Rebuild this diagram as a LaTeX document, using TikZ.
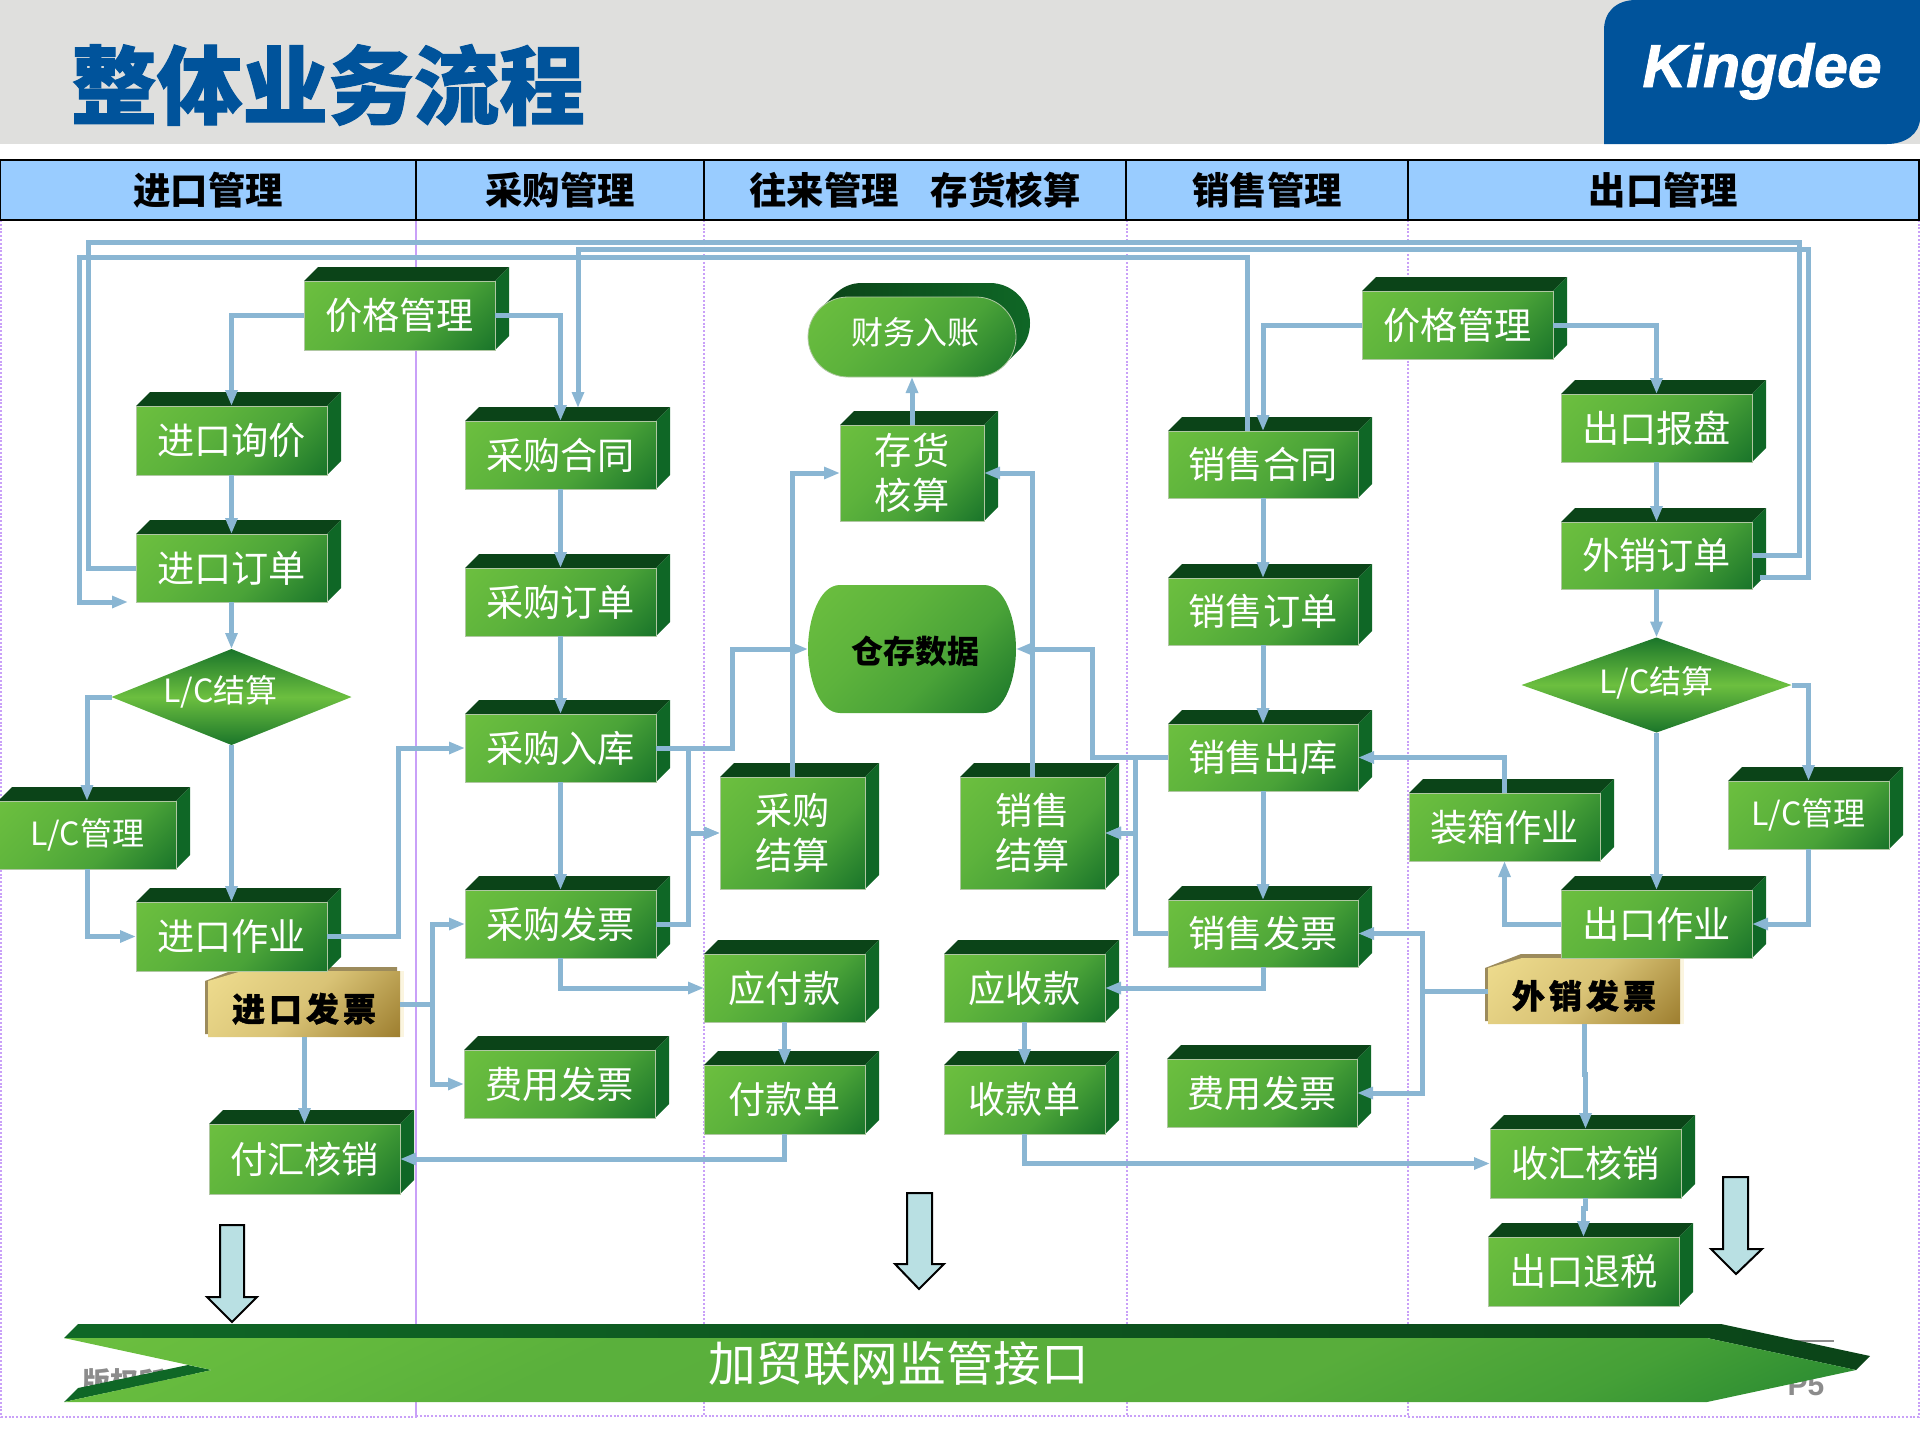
\documentclass[tikz,border=0pt]{standalone}
\usepackage{fontspec}
\usetikzlibrary{arrows.meta,shapes.geometric}
\newfontfamily\cjk{Noto Sans CJK SC}
\newfontfamily\cjkheavy[BoldFeatures={FakeBold=1.2}]{Noto Sans CJK SC}
\newfontfamily\lat{Liberation Sans}
\newfontfamily\latheavy[BoldItalicFeatures={FakeBold=1.5}]{Liberation Sans}
\definecolor{gA}{HTML}{6CBF3F}
\definecolor{gB}{HTML}{5DB33C}
\definecolor{gC}{HTML}{4AA338}
\definecolor{gD}{HTML}{1A752A}
\definecolor{gE}{HTML}{2D8D32}
\definecolor{gH}{HTML}{45A037}
\definecolor{gF}{HTML}{58AD3B}
\definecolor{gI}{HTML}{5AB03C}
\definecolor{gG}{HTML}{62B83D}
\definecolor{topc}{HTML}{0B4418}
\definecolor{sidec}{HTML}{0F6726}
\definecolor{linec}{HTML}{8AB6D3}
\definecolor{purp}{HTML}{C9A0F8}
\definecolor{blue}{HTML}{00539B}
\definecolor{band}{HTML}{DFDFDD}
\definecolor{head}{HTML}{99CCFF}
\definecolor{goldA}{HTML}{EEDC8E}
\definecolor{goldB}{HTML}{D9C376}
\definecolor{goldC}{HTML}{9E7F30}
\definecolor{tan}{HTML}{9C8B5C}
\definecolor{cream}{HTML}{FBF5E0}
\definecolor{sky}{HTML}{B9E0E3}
\definecolor{greytext}{HTML}{8C8C8C}
\pgfdeclareverticalshading{gfaceshade}{100bp}{color(0bp)=(gD);color(15bp)=(gD);color(40bp)=(gC);color(60bp)=(gB);color(85bp)=(gA);color(100bp)=(gA)}
\pgfdeclareverticalshading{bannershade}{100bp}{color(0bp)=(gE);color(19bp)=(gE);color(27bp)=(gH);color(38bp)=(gF);color(64bp)=(gI);color(72bp)=(gG);color(83bp)=(gA);color(100bp)=(gA)}
\pgfdeclareverticalshading{dshade}{100bp}{color(0bp)=(gD);color(25bp)=(gD);color(50bp)=(gA);color(75bp)=(gD);color(100bp)=(gD)}
\pgfdeclareverticalshading{goldshade}{100bp}{color(0bp)=(goldC);color(15bp)=(goldC);color(50bp)=(goldB);color(85bp)=(goldA);color(100bp)=(goldA)}
\newcommand{\shiftup}[2]{\raisebox{\dimexpr #1-0.38em\relax}[0.5em][0.5em]{#2}}
\tikzset{
  gface/.style={rectangle,inner sep=0pt,outer sep=0pt,shade,shading=gfaceshade,shading angle=45,draw=gA!40!white!70!gray,line width=0.4pt,text=white,align=center,font=\cjk\fontsize{18.6pt}{22.5pt}\selectfont},
  diam/.style={diamond,inner sep=0pt,outer sep=0pt,shade,shading=dshade,text=white,font=\cjk\fontsize{16pt}{20pt}\selectfont},
  plain/.style={inner sep=0pt,outer sep=0pt,align=center},
  hcell/.style={rectangle,inner sep=0pt,outer sep=0pt,draw=black,line width=1pt,fill=head,text=black,minimum height=30pt,font=\cjk\bfseries\fontsize{18.7pt}{22pt}\selectfont},
  conn/.style={draw=linec,line width=2.5pt},
  arr/.style={conn,-{Triangle[length=8pt,width=5.8pt]}},
  topf/.style={fill=topc},
  sidef/.style={fill=sidec},
  purpdot/.style={draw=purp,line width=0.9pt,dash pattern=on 1pt off 0.9pt},
  block/.style={fill=sky,draw=black,line width=1pt},
  invtext/.style={plain,text=black,font=\cjkheavy\bfseries\fontsize{16.5pt}{18pt}\selectfont},
}
\newcommand{\gbox}[6]{%
  \fill[topf] (#2,#3) -- ({#2+14},{#3-14}) -- ({#4+14},{#3-14}) -- (#4,#3) -- cycle;
  \fill[sidef] (#4,#3) -- ({#4+14},{#3-14}) -- ({#4+14},{#5-14}) -- (#4,#5) -- cycle;
  \node[gface,minimum width={(#4-#2)*0.5pt},minimum height={(#5-#3)*0.5pt}] (#1) at ({(#2+#4)/2},{(#3+#5)/2}) {#6};
}
\newcommand{\invoice}[6]{%
  \fill[tan] ({#2-3},{#3+10}) -- ({#2+33},{#3-4}) -- ({#4-3},{#3-4}) -- ({#4-3},{#5-3}) -- ({#2-3},{#5-3}) -- cycle;
  \fill[cream] (#4,#3) rectangle ({#4+4},#5);
  \shade[shading=goldshade,shading angle=45] (#2,{#3+10}) -- ({#2+34},#3) -- (#4,#3) -- (#4,#5) -- (#2,#5) -- cycle;
  \node[invtext,minimum width={(#4-#2)*0.5pt},minimum height={(#5-#3)*0.5pt}] (#1) at ({(#2+#4)/2},{(#3+#5)/2}) {\shiftup{-2.4pt}{#6}};
}
\begin{document}
\begin{tikzpicture}[x=0.5pt,y=-0.5pt]
\useasboundingbox (0,0) rectangle (1920,1440);
% band
\fill[band] (0,0) rectangle (1920,144);
\fill[blue] (1604,144) -- (1604,30) .. controls (1604,12) and (1616,0) .. (1636,0) -- (1920,0) -- (1920,118) .. controls (1920,134) and (1905,144) .. (1887,144) -- cycle;
\node[plain,anchor=base,text=white,font=\latheavy\bfseries\itshape\fontsize{30.3pt}{32pt}\selectfont] (logo) at (1762,87) {Kingdee};
\node[plain,anchor=center,text=blue,font=\cjkheavy\bfseries\fontsize{42.8pt}{50pt}\selectfont] (title) at (328,85) {整体业务流程};
% column guides
\draw[draw=purp,line width=0.9pt] (416,220) -- (416,1418);
\draw[purpdot] (1,220) -- (1,1417) -- (416,1417);
\draw[purpdot] (704,220) -- (704,1416);
\draw[purpdot] (1127,220) -- (1127,1416);
\draw[purpdot] (1408,220) -- (1408,1417);
\draw[purpdot] (416,1416) -- (1408,1416);
\draw[purpdot] (1408,1417) -- (1919,1417) -- (1919,220);
% header
\node[hcell,minimum width=208pt] (h1) at (208,190) {进口管理};
\node[hcell,minimum width=144pt] (h2) at (560,190) {采购管理};
\node[hcell,minimum width=211pt] (h3) at (915,190) {往来管理\hspace{16pt}存货核算};
\node[hcell,minimum width=141pt] (h4) at (1267,190) {销售管理};
\node[hcell,minimum width=255.5pt] (h5) at (1663.5,190) {出口管理};
% hidden footer text
\node[plain,anchor=base west,text=greytext,font=\cjk\bfseries\fontsize{14pt}{16pt}\selectfont] (copyr) at (82,1392) {版权所有};
\node[plain,anchor=base,text=greytext,font=\lat\bfseries\fontsize{15pt}{18pt}\selectfont] (pfive) at (1806,1395) {P5};
\draw[draw=greytext,line width=0.8pt] (1790,1341) -- (1834,1341);
% banner
\shade[left color=sidec,right color=topc] (64,1338) -- (78,1324) -- (1721,1324) -- (1870,1356) -- (1856,1370) -- (1707,1338) -- cycle;
\fill[sidef] (64,1402) -- (78,1388) -- (188,1365) -- (212,1370) -- cycle;
\shade[shading=bannershade,shading angle=25] (64,1338) -- (1707,1338) -- (1856,1370) -- (1707,1402) -- (64,1402) -- (212,1370) -- cycle;
\node[plain,text=white,font=\cjk\fontsize{23.8pt}{28pt}\selectfont] (banner) at (898.5,1363) {加贸联网监管接口};
% block arrows
\draw[block] (220,1225) -- (244,1225) -- (244,1297) -- (257,1297) -- (232,1322) -- (207,1297) -- (220,1297) -- cycle;
\draw[block] (907,1193) -- (932,1193) -- (932,1264) -- (944,1264) -- (919,1289) -- (895,1264) -- (907,1264) -- cycle;
\draw[block] (1723,1177) -- (1748,1177) -- (1748,1249) -- (1762,1249) -- (1736,1274) -- (1711,1249) -- (1723,1249) -- cycle;
% invoices
\invoice{invIn}{208}{971}{400}{1037}{进\hspace{2pt}口\hspace{2pt}发\hspace{2pt}票}
\invoice{invEx}{1488}{958}{1680}{1024}{外\hspace{2pt}销\hspace{2pt}发\hspace{2pt}票}
% boxes: import
\gbox{priceL}{304}{281}{495}{350}{价格管理}
\gbox{inquiry}{136}{406}{327}{475}{进口询价}
\gbox{inOrder}{136}{534}{327}{602}{进口订单}
\node[diam,aspect=2.5,minimum width=120pt,minimum height=48pt] (dL) at (231.5,697) {\shiftup{3.5pt}{L/C结算\hspace{11pt}}};
\gbox{lcL}{-2}{801}{176}{869}{\fontsize{16pt}{20pt}\selectfont L/C管理}
\gbox{inWork}{136}{902}{327}{971}{进口作业}
\gbox{remit}{209}{1124}{400}{1194}{付汇核销}
% purchase
\gbox{buyContract}{465}{421}{656}{489}{采购合同}
\gbox{buyOrder}{465}{568}{656}{636}{采购订单}
\gbox{buyIn}{465}{714}{656}{782}{采购入库}
\gbox{buyInv}{465}{890}{656}{958}{采购发票}
\gbox{feeL}{464}{1050}{655}{1118}{费用发票}
% centre
\shade[left color=topc,right color=sidec] (820,309) -- (834,295) .. controls (842,287) and (851,283) .. (862,283) -- (990,283) .. controls (1012,283) and (1030,301) .. (1030,323) .. controls (1030,334) and (1026,344) .. (1018,351) -- (1004,365) -- (900,365) -- cycle;
\node[gface,rounded corners=20pt,minimum width=104pt,minimum height=40pt,font=\cjk\fontsize{16pt}{20pt}\selectfont] (post) at (912,337) {\shiftup{2.5pt}{\hspace{3pt}财务入账}};
\gbox{stock}{840}{425}{984}{521}{存货\\核算}
\shade[shading=gfaceshade,shading angle=45] (840,585) -- (984,585) .. controls (1005,585) and (1016,620) .. (1016,649) .. controls (1016,678) and (1005,713) .. (984,713) -- (840,713) .. controls (819,713) and (808,678) .. (808,649) .. controls (808,620) and (819,585) .. (840,585) -- cycle;
\node[plain,text=black,minimum width=104pt,minimum height=64pt,font=\cjk\bfseries\fontsize{16pt}{20pt}\selectfont] (store) at (912,649) {\shiftup{-1pt}{\hspace{3pt}仓存数据}};
\gbox{buySet}{720}{777}{865}{889}{采购\\结算}
\gbox{saleSet}{960}{777}{1105}{889}{销售\\结算}
\gbox{payable}{704}{954}{865}{1022}{应付款}
\gbox{payBill}{704}{1065}{865}{1134}{付款单}
\gbox{receiv}{944}{954}{1105}{1022}{应收款}
\gbox{recBill}{944}{1065}{1105}{1134}{收款单}
% sale
\gbox{saleContract}{1168}{431}{1358}{498}{销售合同}
\gbox{saleOrder}{1168}{578}{1358}{645}{销售订单}
\gbox{saleOut}{1168}{724}{1358}{791}{销售出库}
\gbox{saleInv}{1168}{900}{1358}{967}{销售发票}
\gbox{feeR}{1167}{1059}{1357}{1127}{费用发票}
% export
\gbox{priceR}{1362}{291}{1553}{359}{价格管理}
\gbox{offer}{1561}{394}{1752}{462}{出口报盘}
\gbox{exOrder}{1561}{522}{1752}{589}{外销订单}
\node[diam,aspect=2.84,minimum width=135pt,minimum height=47.5pt] (dR) at (1656.5,685) {\shiftup{2pt}{L/C结算}};
\gbox{packing}{1409}{793}{1600}{861}{装箱作业}
\gbox{lcR}{1728}{781}{1889}{849}{\fontsize{16pt}{20pt}\selectfont L/C管理}
\gbox{exWork}{1561}{890}{1752}{958}{出口作业}
\gbox{collect}{1490}{1129}{1681}{1198}{收汇核销}
\gbox{refund}{1488}{1237}{1679}{1306}{出口退税}
% free ends
\coordinate (aTL) at (88,242.5);
\coordinate (aTR) at (1799,242.5);
\coordinate (bTL) at (79,257);
\coordinate (bEnd) at (128,602);
\coordinate (cTR) at (1808,249.5);
\coordinate (cEnd) at (1760,577);
% long loops
\draw[conn] (inOrder.west) -| (aTL) -- (aTR) |- (exOrder.east);
\draw[arr] ([xshift=-8pt]saleContract.north) |- (bTL) |- (bEnd);
\draw[arr] (cEnd) -| (cTR) -| ([xshift=8.75pt,yshift=6.5pt]buyContract.north);
% import connectors
\draw[arr] (priceL.west) -| (inquiry.north);
\draw[arr] (priceL.east) -| (buyContract.north);
\draw[arr] (inquiry.south) -- (inOrder.north);
\draw[arr] (inOrder.south) -- (dL.north);
\draw[arr] (dL.west) -| (lcL.north);
\draw[arr] (lcL.south) |- (inWork.west);
\draw[arr] (dL.south) -- (inWork.north);
\draw[arr] (inWork.east) -- ++(71,0) |- (buyIn.west);
\draw[arr] (invIn.east) -- ++(32,0) |- (buyInv.west);
\draw[arr] (invIn.east) -- ++(32,0) |- (feeL.west);
\draw[arr] (invIn.south) -- ++(0,40) -| (remit.north);
\draw[arr] (payBill.south) |- (remit.east);
% purchase connectors
\draw[arr] (buyContract.south) -- (buyOrder.north);
\draw[arr] (buyOrder.south) -- (buyIn.north);
\draw[arr] (buyIn.south) -- (buyInv.north);
\draw[arr] (buyIn.east) -- ++(76,0) |- (store.west);
\draw[arr] (buyIn.east) -- ++(32,0) |- (buySet.west);
\draw[arr] (buyInv.east) -- ++(32,0) |- (buySet.west);
\draw[arr] (buyInv.south) |- (payable.west);
\draw[arr] (payable.south) -- (payBill.north);
\draw[arr] (buySet.north) |- (stock.west);
% sale connectors
\draw[arr] (saleSet.north) |- (stock.east);
\draw[arr] (stock.north) -- (post.south);
\draw[arr] (saleOut.west) -- ++(-76,0) |- (store.east);
\draw[arr] (saleOut.west) -- ++(-33,0) |- (saleSet.east);
\draw[arr] (saleInv.west) -- ++(-33,0) |- (saleSet.east);
\draw[arr] (saleInv.south) |- (receiv.east);
\draw[arr] (receiv.south) -- (recBill.north);
\draw[arr] (recBill.south) |- (collect.west);
\draw[arr] (priceR.west) -| (saleContract.north);
\draw[arr] (saleContract.south) -- (saleOrder.north);
\draw[arr] (saleOrder.south) -- (saleOut.north);
\draw[arr] (saleOut.south) -- (saleInv.north);
% export connectors
\draw[arr] (priceR.east) -| (offer.north);
\draw[arr] (offer.south) -- (exOrder.north);
\draw[arr] (exOrder.south) -- (dR.north);
\draw[arr] (dR.south) -- (exWork.north);
\draw[arr] (dR.east) -| (lcR.north);
\draw[arr] (lcR.south) |- (exWork.east);
\draw[arr] (exWork.west) -| (packing.south);
\draw[arr] (packing.north) |- (saleOut.east);
\draw[arr] (invEx.west) -- ++(-66,0) |- (saleInv.east);
\draw[arr] (invEx.west) -- ++(-66,0) |- (feeR.east);
\draw[arr] (invEx.south) -- ++(0,50) -| (collect.north);
\draw[arr] (collect.south) -- ++(0,10) -| (refund.north);
\end{tikzpicture}
\end{document}
